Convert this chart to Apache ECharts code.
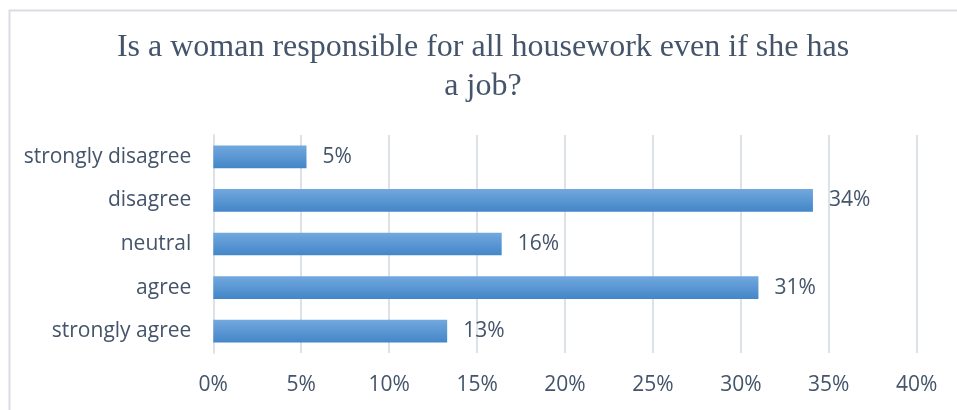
<!DOCTYPE html>
<html>
<head>
<meta charset="utf-8">
<script src="https://cdn.jsdelivr.net/npm/echarts@6/dist/echarts.min.js"></script>
<style>
html,body{margin:0;padding:0;background:#fff;}
#chart{width:957px;height:410px;}
</style>
</head>
<body>
<div id="chart"></div>
<script>
var titleText = "Is a woman responsible for all housework even if she has\na job?";
var categories = ["strongly disagree", "disagree", "neutral", "agree", "strongly agree"];
var values = [5.3, 34.1, 16.4, 31.0, 13.3];
var xTicks = [0, 5, 10, 15, 20, 25, 30, 35, 40];

var chart = echarts.init(document.getElementById('chart'), null, {renderer: 'canvas'});
var textColor = '#44546a';
var font = '"Open Sans", sans-serif';
chart.setOption({
  animation: false,
  backgroundColor: '#fff',
  graphic: [{
    type: 'rect', left: 7, top: 8, z: -1,
    shape: {width: 1000, height: 500},
    style: {fill: 'none', stroke: '#d9dde3', lineWidth: 2}
  }],
  title: {
    text: titleText,
    left: 478,
    top: 23,
    textAlign: 'center',
    textStyle: {
      fontFamily: '"Liberation Serif", "Times New Roman", serif',
      fontSize: 32,
      fontWeight: 'normal',
      color: textColor,
      lineHeight: 39,
      align: 'center'
    }
  },
  grid: {left: 213.3, right: 40.3, top: 135, bottom: 57, containLabel: false},
  xAxis: {
    type: 'value',
    min: xTicks[0],
    max: xTicks[xTicks.length - 1],
    interval: 5,
    axisLine: {show: false},
    axisTick: {show: false},
    splitLine: {show: true, lineStyle: {color: '#dde1e8', width: 2}},
    axisLabel: {
      formatter: function (v) { return v + '%'; },
      color: textColor,
      fontFamily: font,
      fontSize: 21,
      margin: 22
    }
  },
  yAxis: {
    type: 'category',
    data: categories,
    inverse: true,
    axisLine: {show: true, lineStyle: {color: '#dde1e8', width: 2}},
    axisTick: {show: false},
    axisLabel: {
      color: textColor,
      fontFamily: font,
      fontSize: 21,
      margin: 22
    }
  },
  series: [{
    type: 'bar',
    data: values,
    barCategoryGap: '48%',
    itemStyle: {
      color: new echarts.graphic.LinearGradient(0, 0, 0, 1, [
        {offset: 0, color: '#72a8de'},
        {offset: 1, color: '#4386c8'}
      ])
    },
    label: {
      show: true,
      position: 'right',
      distance: 16,
      formatter: function (p) { return Math.round(p.value) + '%'; },
      color: textColor,
      fontFamily: font,
      fontSize: 21
    }
  }]
});
</script>
</body>
</html>
